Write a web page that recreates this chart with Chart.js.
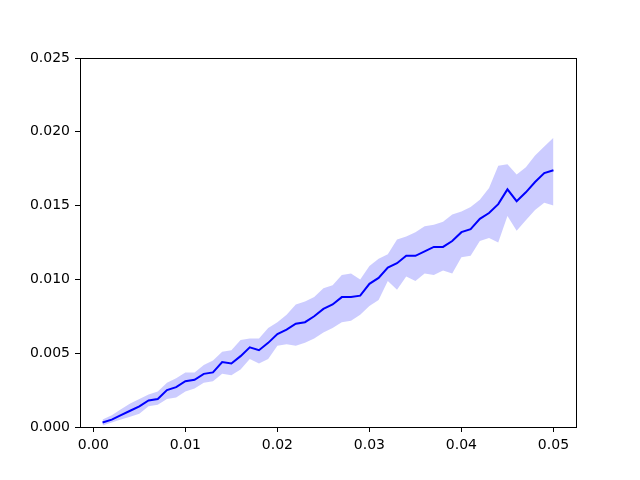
<!DOCTYPE html>
<html>
<head>
<meta charset="utf-8">
<script src="https://cdn.jsdelivr.net/npm/chart.js@4/dist/chart.umd.min.js"></script>
<style>
html,body{margin:0;padding:0;background:#fff;}
#wrap{width:640px;height:480px;position:relative;}
</style>
</head>
<body>
<div id="wrap"><canvas id="c" width="640" height="480"></canvas></div>
<script>
const xValues = [0.001,0.002,0.003,0.004,0.005,0.006,0.007,0.008,0.009,0.010,
  0.011,0.012,0.013,0.014,0.015,0.016,0.017,0.018,0.019,0.020,
  0.021,0.022,0.023,0.024,0.025,0.026,0.027,0.028,0.029,0.030,
  0.031,0.032,0.033,0.034,0.035,0.036,0.037,0.038,0.039,0.040,
  0.041,0.042,0.043,0.044,0.045,0.046,0.047,0.048,0.049,0.050];
const meanValues = [0.0003,0.0005,0.0008,0.0011,0.0014,0.0018,0.0019,0.0025,0.0027,0.0031,
  0.0032,0.0036,0.0037,0.0044,0.0043,0.0048,0.0054,0.0052,0.0057,0.0063,
  0.0066,0.0070,0.0071,0.0075,0.0080,0.0083,0.0088,0.0088,0.0089,0.0097,
  0.0101,0.0108,0.0111,0.0116,0.0116,0.0119,0.0122,0.0122,0.0126,0.0132,
  0.0134,0.0141,0.0145,0.0151,0.0161,0.0153,0.0159,0.0166,0.0172,0.0174];
const upperValues = [0.0005,0.0008,0.0012,0.0016,0.0019,0.0022,0.0024,0.0030,0.0033,0.0037,
  0.0037,0.0042,0.0045,0.0051,0.0052,0.0059,0.0060,0.0060,0.0067,0.0071,
  0.0076,0.0083,0.0085,0.0088,0.0094,0.0096,0.0103,0.0104,0.0100,0.0109,
  0.0114,0.0117,0.0127,0.0129,0.0132,0.0136,0.0137,0.0139,0.0144,0.0146,
  0.0149,0.0154,0.0162,0.0177,0.0178,0.0171,0.0176,0.0184,0.0190,0.0196];
const lowerValues = [0.0001,0.0003,0.0005,0.0007,0.0009,0.0014,0.0015,0.0019,0.0020,0.0024,
  0.0026,0.0030,0.0031,0.0036,0.0035,0.0039,0.0046,0.0043,0.0046,0.0055,
  0.0056,0.0055,0.0057,0.0060,0.0064,0.0067,0.0071,0.0072,0.0076,0.0082,
  0.0086,0.0099,0.0093,0.0102,0.0099,0.0104,0.0103,0.0106,0.0104,0.0115,
  0.0116,0.0126,0.0128,0.0125,0.0143,0.0133,0.0140,0.0147,0.0152,0.0150];
const xTicks = [0.00,0.01,0.02,0.03,0.04,0.05];
const yTicks = [0.000,0.005,0.010,0.015,0.020,0.025];

const toPts = arr => arr.map((v,i)=>({x:xValues[i], y:v}));

const frame = {
  id:'frame',
  afterDatasetsDraw(chart){
    const {ctx, chartArea:a} = chart;
    ctx.save();
    ctx.strokeStyle='#000';
    ctx.lineWidth=1;
    ctx.strokeRect(Math.round(a.left)+0.5, Math.round(a.top)+0.5, Math.round(a.right-a.left), Math.round(a.bottom-a.top));
    ctx.restore();
  }
};

const font = {family:'DejaVu Sans', size:14};

new Chart(document.getElementById('c'), {
  type:'line',
  data:{
    datasets:[
      {data:toPts(upperValues), borderWidth:0, borderColor:'rgba(0,0,0,0)', backgroundColor:'rgba(0,0,255,0.2)', fill:'+1', pointRadius:0, tension:0, order:2},
      {data:toPts(lowerValues), borderWidth:0, borderColor:'rgba(0,0,0,0)', backgroundColor:'rgba(0,0,255,0.2)', fill:false, pointRadius:0, tension:0, order:2},
      {data:toPts(meanValues), borderWidth:2, borderColor:'#0000ff', fill:false, pointRadius:0, tension:0, order:1}
    ]
  },
  options:{
    responsive:false,
    animation:false,
    layout:{padding:{left:0,right:64,top:58,bottom:0}},
    plugins:{legend:{display:false}, tooltip:{enabled:false}},
    scales:{
      x:{
        type:'linear', min:-0.00145, max:0.05245,
        afterBuildTicks(s){ s.ticks = xTicks.map(v=>({value:v})); },
        afterFit(s){ s.height = 53; },
        border:{display:false},
        grid:{drawOnChartArea:false, drawTicks:true, tickLength:5, tickColor:'#000', color:'#000'},
        ticks:{color:'#000', font, padding:5, maxRotation:0, callback:v=>Number(v).toFixed(2)}
      },
      y:{
        type:'linear', min:0, max:0.025,
        afterBuildTicks(s){ s.ticks = yTicks.map(v=>({value:v})); },
        afterFit(s){ s.width = 80; },
        border:{display:false},
        grid:{drawOnChartArea:false, drawTicks:true, tickLength:5, tickColor:'#000', color:'#000'},
        ticks:{color:'#000', font, padding:5, callback:v=>Number(v).toFixed(3)}
      }
    }
  },
  plugins:[frame]
});
</script>
</body>
</html>
